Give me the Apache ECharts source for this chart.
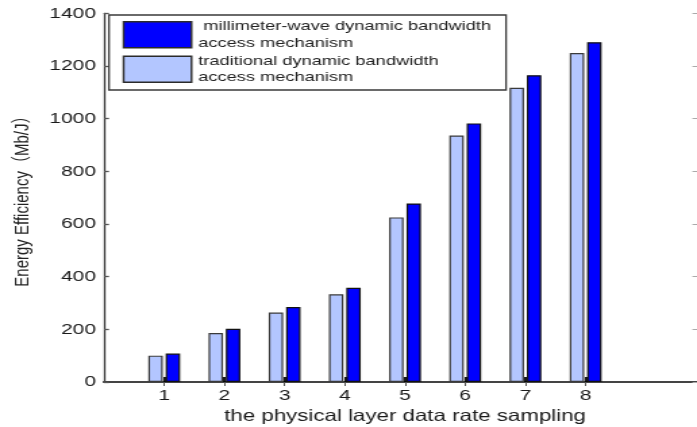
<!DOCTYPE html>
<html>
<head>
<meta charset="utf-8">
<script src="https://cdn.jsdelivr.net/npm/echarts@6/dist/echarts.min.js"></script>
<style>
  html, body { margin: 0; padding: 0; background: #ffffff; overflow: hidden; }
  /* The figure is laid out on a narrower canvas and stretched horizontally to 697px */
  #chart { width: 516px; height: 427px; transform: scaleX(1.35078); transform-origin: 0 0; }
</style>
</head>
<body>
<div id="chart"></div>
<script>
// Sampling points of the physical layer data rate
const categories = ['1', '2', '3', '4', '5', '6', '7', '8'];

// Energy efficiency (Mb/J) per sampling point
const traditionalValues = [100, 186, 264, 333, 625, 936, 1117, 1249];
const mmWaveValues = [108, 202, 285, 358, 678, 982, 1165, 1290];

const mmWaveName = ' millimeter-wave dynamic bandwidth\naccess mechanism';
const traditionalName = 'traditional dynamic bandwidth\naccess mechanism';

const yTicks = { min: 0, max: 1400, interval: 200 };
const xTitle = 'the physical layer data rate sampling';
const yTitle = 'Energy Efficiency\uFF08Mb/J\uFF09';

// x runs from 0 to 10 with bars at 1..8; pad the category list accordingly
const axisCategories = [''].concat(categories, ['', '']);
const pad = (arr) => [null].concat(arr, [null, null]);
const tickAtData = (index, value) => value !== '';

const font = 'Liberation Sans, Arial, Noto Sans CJK SC, sans-serif';

const chart = echarts.init(document.getElementById('chart'));
chart.setOption({
  animation: false,
  backgroundColor: '#ffffff',
  grid: { left: 77, right: -6.7, top: 13.3, bottom: 45, containLabel: false, outerBoundsMode: 'none' },
  legend: {
    data: [mmWaveName, traditionalName],
    orient: 'vertical',
    left: 80.7,
    top: 15,
    padding: [3.2, 11, 4.3, 10.1],
    itemGap: 1.5,
    itemWidth: 50.3,
    itemHeight: 26,
    icon: 'rect',
    backgroundColor: '#ffffff',
    borderColor: '#3a3a3a',
    borderWidth: 1.3,
    itemStyle: { borderColor: '#2a2a2a', borderWidth: 1.4 },
    textStyle: { fontFamily: font, fontSize: 13.5, lineHeight: 16.5, color: '#222222' }
  },
  xAxis: [
    {
      type: 'category',
      data: axisCategories,
      boundaryGap: false,
      position: 'bottom',
      axisLine: { lineStyle: { color: '#111111', width: 1.5 } },
      axisTick: { inside: true, length: 5, interval: tickAtData, lineStyle: { color: '#000000', width: 1.8 } },
      axisLabel: { interval: 0, margin: 6, fontFamily: font, fontSize: 15.5, color: '#1a1a1a' },
      splitLine: { show: false },
      name: xTitle,
      nameLocation: 'middle',
      nameGap: 22.5,
      nameTextStyle: { fontFamily: font, fontSize: 16.5, color: '#1a1a1a' }
    },
    {
      type: 'category',
      data: axisCategories,
      boundaryGap: false,
      position: 'top',
      axisLine: { lineStyle: { color: '#444444', width: 2 } },
      axisTick: { inside: true, length: 4, interval: tickAtData, lineStyle: { color: '#555555', width: 1 } },
      axisLabel: { show: false },
      splitLine: { show: false }
    }
  ],
  yAxis: [
    {
      type: 'value',
      min: yTicks.min,
      max: yTicks.max,
      interval: yTicks.interval,
      position: 'left',
      axisLine: { show: true, lineStyle: { color: '#333333', width: 1.3 } },
      axisTick: { show: true, inside: true, length: 3.7, lineStyle: { color: '#555555', width: 1.3 } },
      axisLabel: { margin: 6, fontFamily: font, fontSize: 15.5, color: '#1a1a1a', formatter: (v) => String(v) },
      splitLine: { show: false },
      name: yTitle,
      nameLocation: 'middle',
      nameRotate: 90,
      nameGap: 53,
      nameTextStyle: { fontFamily: font, fontSize: 15, color: '#222222' }
    },
    {
      type: 'value',
      min: yTicks.min,
      max: yTicks.max,
      interval: yTicks.interval,
      position: 'right',
      offset: -5.6,
      axisLine: { show: true, lineStyle: { color: '#888888', width: 1 } },
      axisTick: { show: true, inside: true, length: 4.5, lineStyle: { color: '#aaaaaa', width: 1 } },
      axisLabel: { show: false },
      splitLine: { show: false }
    }
  ],
  series: [
    {
      name: traditionalName,
      type: 'bar',
      data: pad(traditionalValues),
      barWidth: 10.7,
      barGap: '20%',
      itemStyle: { color: '#b3c6ff', borderColor: '#3a3a3a', borderWidth: 1.2 }
    },
    {
      name: mmWaveName,
      type: 'bar',
      data: pad(mmWaveValues),
      barWidth: 10.7,
      barGap: '20%',
      itemStyle: { color: '#0000ff', borderColor: '#111111', borderWidth: 1.2 }
    }
  ]
});
</script>
</body>
</html>
